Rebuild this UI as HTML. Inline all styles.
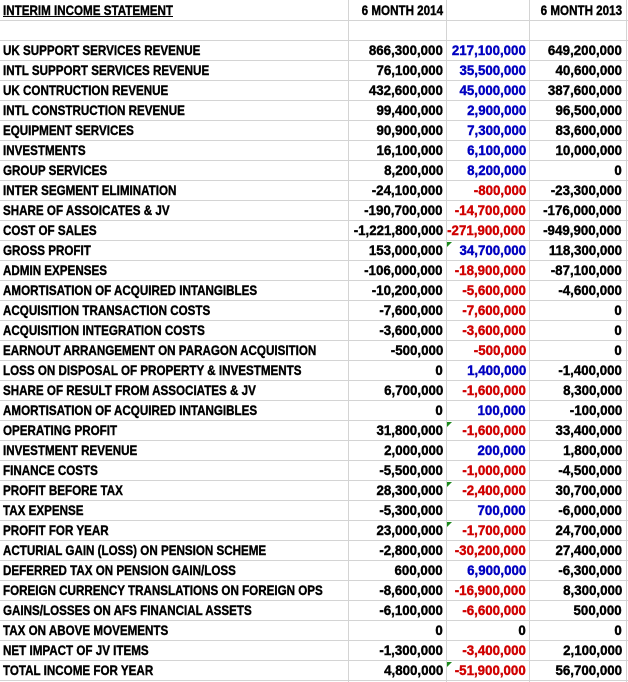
<!DOCTYPE html>
<html><head><meta charset="utf-8"><style>
body{margin:0;width:628px;height:682px;background:#fff;overflow:hidden;position:relative;font-family:"Liberation Sans",Arial,sans-serif;font-weight:bold;font-size:14px;color:#000}
.r{position:absolute;left:0;width:628px;height:20px;border-bottom:1px solid #d4d4d4;box-sizing:border-box}
.c{position:absolute;top:0;height:19px;line-height:19px;white-space:nowrap;overflow:visible;-webkit-text-stroke:0.4px currentColor}
.a{left:3px}
.b{right:185px}.cc{right:102px}.d{right:6px}
.v{position:absolute;top:0;width:1px;height:682px;background:#d4d4d4}
.t{display:inline-block;transform:scaleX(0.83);}
.n{display:inline-block;transform:scaleX(0.95);}
.a .t{transform-origin:left center}
.b span,.cc span,.d span{transform-origin:right center}
.bl{color:#0000c0}.rd{color:#d00000}
.g{position:absolute;left:447px;top:1px;width:0;height:0;border-top:5px solid #1a8a1a;border-right:5px solid transparent}
</style></head><body>
<div class="v" style="left:348px"></div><div class="v" style="left:446px"></div><div class="v" style="left:529px"></div><div class="v" style="left:626px"></div>
<div id="rows"></div>
<script>
var d=[
["<u>INTERIM INCOME STATEMENT</u>","6 MONTH 2014","","6 MONTH 2013",0],
["","","","",0],
["UK SUPPORT SERVICES REVENUE","866,300,000","217,100,000","649,200,000",0],
["INTL SUPPORT SERVICES REVENUE","76,100,000","35,500,000","40,600,000",0],
["UK CONTRUCTION REVENUE","432,600,000","45,000,000","387,600,000",0],
["INTL CONSTRUCTION REVENUE","99,400,000","2,900,000","96,500,000",0],
["EQUIPMENT SERVICES","90,900,000","7,300,000","83,600,000",0],
["INVESTMENTS","16,100,000","6,100,000","10,000,000",0],
["GROUP SERVICES","8,200,000","8,200,000","0",0],
["INTER SEGMENT ELIMINATION","-24,100,000","-800,000","-23,300,000",0],
["SHARE OF ASSOICATES &amp; JV","-190,700,000","-14,700,000","-176,000,000",0],
["COST OF SALES","-1,221,800,000","-271,900,000","-949,900,000",0],
["GROSS PROFIT","153,000,000","34,700,000","118,300,000",1],
["ADMIN EXPENSES","-106,000,000","-18,900,000","-87,100,000",0],
["AMORTISATION OF ACQUIRED INTANGIBLES","-10,200,000","-5,600,000","-4,600,000",0],
["ACQUISITION TRANSACTION COSTS","-7,600,000","-7,600,000","0",0],
["ACQUISITION INTEGRATION COSTS","-3,600,000","-3,600,000","0",0],
["EARNOUT ARRANGEMENT ON PARAGON ACQUISITION","-500,000","-500,000","0",0],
["LOSS ON DISPOSAL OF PROPERTY &amp; INVESTMENTS","0","1,400,000","-1,400,000",0],
["SHARE OF RESULT FROM ASSOCIATES &amp; JV","6,700,000","-1,600,000","8,300,000",0],
["AMORTISATION OF ACQUIRED INTANGIBLES","0","100,000","-100,000",0],
["OPERATING PROFIT","31,800,000","-1,600,000","33,400,000",1],
["INVESTMENT REVENUE","2,000,000","200,000","1,800,000",0],
["FINANCE COSTS","-5,500,000","-1,000,000","-4,500,000",0],
["PROFIT BEFORE TAX","28,300,000","-2,400,000","30,700,000",1],
["TAX EXPENSE","-5,300,000","700,000","-6,000,000",0],
["PROFIT FOR YEAR","23,000,000","-1,700,000","24,700,000",1],
["ACTURIAL GAIN (LOSS) ON PENSION SCHEME","-2,800,000","-30,200,000","27,400,000",0],
["DEFERRED TAX ON PENSION GAIN/LOSS","600,000","6,900,000","-6,300,000",0],
["FOREIGN CURRENCY TRANSLATIONS ON FOREIGN OPS","-8,600,000","-16,900,000","8,300,000",0],
["GAINS/LOSSES ON AFS FINANCIAL ASSETS","-6,100,000","-6,600,000","500,000",0],
["TAX ON ABOVE MOVEMENTS","0","0","0",0],
["NET IMPACT OF JV ITEMS","-1,300,000","-3,400,000","2,100,000",0],
["TOTAL INCOME FOR YEAR","4,800,000","-51,900,000","56,700,000",1]];
var h="";
d.forEach(function(r,i){
 var cl=r[2]===""||r[2]==="0"?"":(r[2][0]=="-"?"rd":"bl");
 var k=i==0?"t":"n";
 h+='<div class="r" style="top:'+(i*20+1)+'px">'+
 '<div class="c a"><span class="t">'+r[0]+'</span></div>'+
 '<div class="c b"><span class="'+k+'">'+r[1]+'</span></div>'+
 '<div class="c cc '+cl+'"><span class="'+k+'">'+r[2]+'</span></div>'+
 '<div class="c d"><span class="'+k+'">'+r[3]+'</span></div>'+
 (r[4]?'<div class="g"></div>':'')+'</div>';
});
document.getElementById("rows").innerHTML=h;
</script>
</body></html>
